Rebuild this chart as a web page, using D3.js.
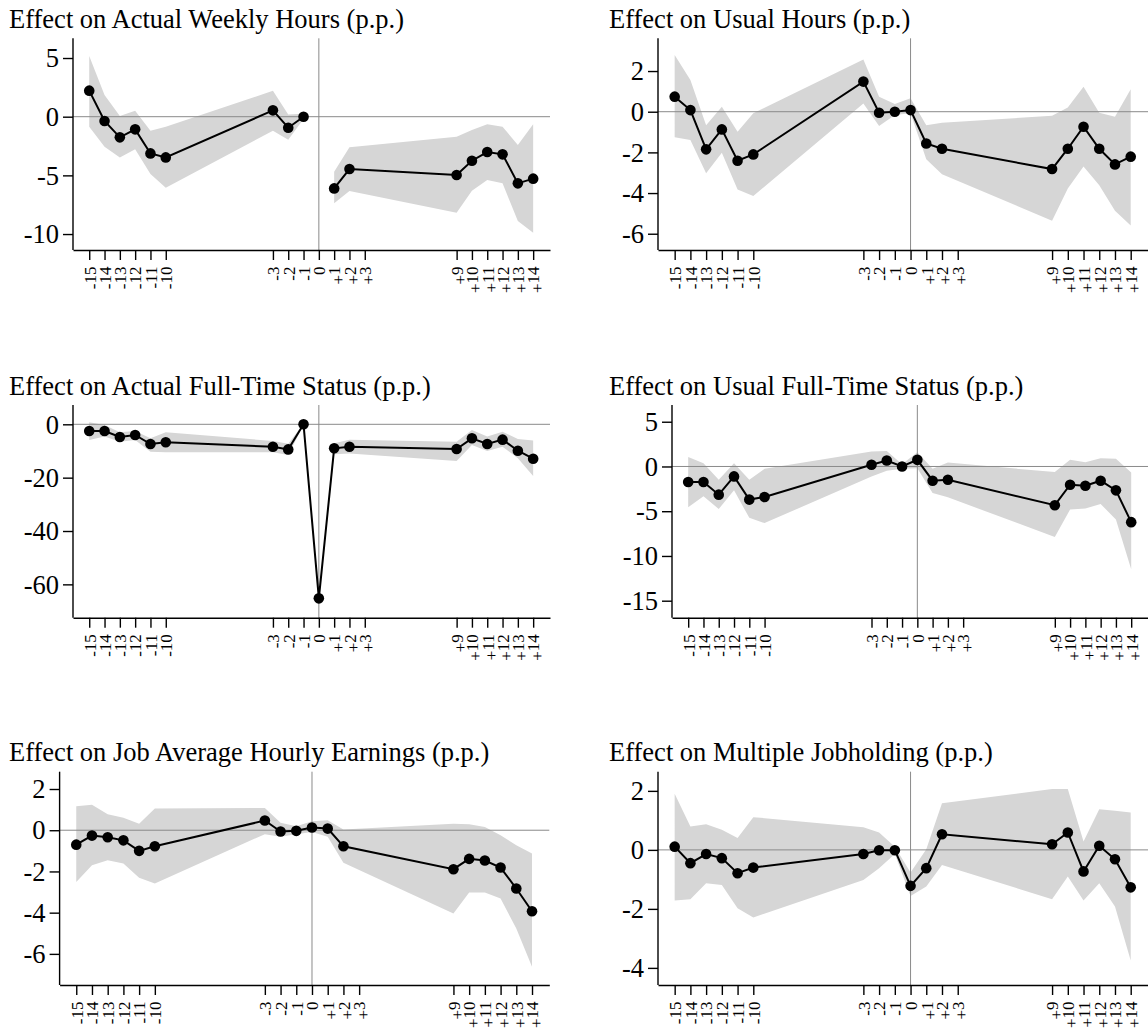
<!DOCTYPE html>
<html>
<head>
<meta charset="utf-8">
<script src="https://cdn.jsdelivr.net/npm/d3@7"></script>
<style>
  body { margin: 0; background: #fff; }
  svg { display: block; }
  svg text { font-family: "Liberation Serif", "Times New Roman", serif; }
</style>
</head>
<body>
<div id="chart"></div>
<script>
// event time of each estimate (no estimate at +3)
const eventTimes = [-15, -14, -13, -12, -11, -10, -3, -2, -1, 0, 1, 2, 9, 10, 11, 12, 13, 14];
const xTickValues = [-15, -14, -13, -12, -11, -10, -3, -2, -1, 0, 1, 2, 3, 9, 10, 11, 12, 13, 14];

const titles = [
  "Effect on Actual Weekly Hours (p.p.)",
  "Effect on Usual Hours (p.p.)",
  "Effect on Actual Full-Time Status (p.p.)",
  "Effect on Usual Full-Time Status (p.p.)",
  "Effect on Job Average Hourly Earnings (p.p.)",
  "Effect on Multiple Jobholding (p.p.)"
];

// actual weekly hours (no estimate at 0)
const actualHoursEst = [2.22, -0.37, -1.76, -1.08, -3.13, -3.47, 0.54, -0.94, 0.0, null, -6.11, -4.46, -4.97, -3.75, -3.01, -3.21, -5.68, -5.28];
const actualHoursHi  = [5.17, 1.85, 0.05, 0.51, -1.19, -0.85, 2.2, 0.18, 0.25, null, -4.69, -2.61, -1.7, -1.13, -0.65, -0.85, -2.41, -0.65];
const actualHoursLo  = [-0.85, -2.56, -3.47, -2.78, -4.89, -6.05, -1.2, -1.96, -0.2, null, -7.38, -6.33, -8.18, -6.31, -5.4, -5.68, -8.89, -9.89];

// usual hours
const usualHoursEst = [0.74, 0.08, -1.85, -0.87, -2.41, -2.1, 1.48, -0.05, 0.0, 0.08, -1.56, -1.82, -2.82, -1.82, -0.74, -1.82, -2.59, -2.21];
const usualHoursHi  = [2.79, 1.56, -0.66, 0.25, -0.98, -0.08, 2.57, 0.74, 0.38, 0.66, -0.66, -0.54, -0.2, 0.21, 1.23, -0.05, -0.25, 1.1];
const usualHoursLo  = [-1.26, -1.39, -3.03, -2.02, -3.82, -4.15, 0.41, -0.7, -0.16, -0.08, -2.34, -3.07, -5.36, -3.77, -2.7, -3.61, -4.87, -5.59];

// actual full-time status
const actualFtEst = [-2.5, -2.5, -4.75, -4.0, -7.4, -6.75, -8.4, -9.4, 0.0, -65.25, -9.0, -8.4, -9.25, -5.25, -7.4, -5.75, -9.9, -12.9];
const actualFtHi  = [0.75, -0.25, -3.0, -2.5, -5.25, -3.0, -6.25, -7.25, 0.25, -64.5, -7.1, -5.75, -6.5, -2.1, -4.6, -2.75, -5.5, -6.1];
const actualFtLo  = [-5.9, -4.6, -6.5, -5.9, -10.25, -10.5, -10.5, -11.5, -0.25, -66.0, -11.25, -10.9, -13.75, -7.75, -10.0, -8.4, -12.75, -19.4];

// usual full-time status
const usualFtEst = [-1.74, -1.74, -3.15, -1.11, -3.7, -3.41, 0.19, 0.67, 0.0, 0.74, -1.59, -1.48, -4.33, -2.04, -2.15, -1.59, -2.67, -6.22];
const usualFtHi  = [1.07, 0.37, -1.48, 0.37, -1.48, -0.26, 1.67, 1.74, 0.26, 1.6, -0.26, 0.44, -0.63, 0.74, 0.48, 0.93, 0.85, -0.67];
const usualFtLo  = [-4.56, -3.33, -4.74, -2.67, -5.74, -6.33, -1.11, -0.48, -0.26, -0.2, -2.96, -3.44, -7.89, -4.81, -4.7, -4.19, -5.93, -11.48];

// job average hourly earnings
const earningsEst = [-0.7, -0.26, -0.34, -0.49, -1.0, -0.78, 0.47, -0.06, -0.03, 0.13, 0.08, -0.78, -1.89, -1.39, -1.47, -1.81, -2.83, -3.93];
const earningsHi  = [1.16, 1.24, 0.78, 0.6, 0.32, 1.05, 1.08, 0.36, 0.19, 0.44, 0.49, 0.03, 0.32, 0.29, 0.16, -0.24, -0.73, -1.13];
const earningsLo  = [-2.51, -1.7, -1.46, -1.62, -2.31, -2.59, -0.19, -0.32, -0.19, -0.08, -0.32, -1.58, -4.04, -3.02, -3.02, -3.31, -4.77, -6.63];

// multiple jobholding
const multiJobEst = [0.11, -0.45, -0.14, -0.28, -0.79, -0.6, -0.14, -0.01, -0.01, -1.22, -0.62, 0.53, 0.19, 0.59, -0.73, 0.14, -0.32, -1.27];
const multiJobHi  = [1.9, 0.79, 0.87, 0.68, 0.4, 1.11, 0.77, 0.59, 0.11, -0.77, 0.02, 1.58, 2.06, 2.06, 0.28, 1.38, 1.33, 1.27];
const multiJobLo  = [-1.72, -1.67, -1.13, -1.19, -1.98, -2.29, -1.02, -0.62, -0.14, -1.56, -1.24, -0.51, -1.67, -0.9, -1.72, -1.13, -1.92, -3.75];

const yTicksList = [
  [5, 0, -5, -10],
  [2, 0, -2, -4, -6],
  [0, -20, -40, -60],
  [5, 0, -5, -10, -15],
  [2, 0, -2, -4, -6],
  [2, 0, -2, -4]
];

const series = [
  [actualHoursEst, actualHoursHi, actualHoursLo],
  [usualHoursEst, usualHoursHi, usualHoursLo],
  [actualFtEst, actualFtHi, actualFtLo],
  [usualFtEst, usualFtHi, usualFtLo],
  [earningsEst, earningsHi, earningsLo],
  [multiJobEst, multiJobHi, multiJobLo]
];

// plot regions (pixels) and value ranges of each panel
const layout = [
  { left: 73,  right: 550,  top: 38.3,  bottom: 250,   yDomain: [-11.36, 6.68], tx: 9,   ty: 28.3 },
  { left: 658, right: 1148, top: 38.3,  bottom: 250,   yDomain: [-6.80, 3.61],  tx: 609, ty: 28.3 },
  { left: 73,  right: 550,  top: 405,   bottom: 617.7, yDomain: [-72.5, 7.24],  tx: 9,   ty: 395 },
  { left: 672, right: 1148, top: 405,   bottom: 617.7, yDomain: [-16.9, 6.87],  tx: 609, ty: 395 },
  { left: 59.6, right: 549.3, top: 771.7, bottom: 985, yDomain: [-7.51, 2.84],  tx: 9,   ty: 761 },
  { left: 658, right: 1148, top: 771.7, bottom: 985,   yDomain: [-4.58, 2.65],  tx: 609, ty: 761 }
];

const xDomain = [-16.06, 15.1];
const serif = "'Liberation Serif', 'Times New Roman', serif";

const svg = d3.select("#chart").append("svg")
  .attr("width", 1148)
  .attr("height", 1034)
  .attr("font-family", serif);

layout.forEach((p, i) => {
  const [est, hi, lo] = series[i];
  const data = eventTimes.map((t, j) => ({ t: t, est: est[j], hi: hi[j], lo: lo[j] }));

  const x = d3.scaleLinear().domain(xDomain).range([p.left, p.right]);
  const y = d3.scaleLinear().domain(p.yDomain).range([p.bottom, p.top]);

  const g = svg.append("g");

  // title
  g.append("text")
    .attr("x", p.tx)
    .attr("y", p.ty)
    .attr("font-family", serif)
    .attr("font-size", 26.5)
    .attr("fill", "#000")
    .text(titles[i]);

  // confidence band
  const area = d3.area()
    .defined(d => d.hi != null)
    .x(d => x(d.t))
    .y0(d => y(d.lo))
    .y1(d => y(d.hi));
  g.append("path")
    .datum(data)
    .attr("d", area)
    .attr("fill", "#d6d6d6");

  // reference lines
  g.append("line")
    .attr("x1", p.left).attr("x2", p.right)
    .attr("y1", y(0)).attr("y2", y(0))
    .attr("stroke", "#8a8a8a").attr("stroke-width", 1);
  g.append("line")
    .attr("x1", x(0)).attr("x2", x(0))
    .attr("y1", p.top).attr("y2", p.bottom)
    .attr("stroke", "#8a8a8a").attr("stroke-width", 1);

  // axes
  const gy = g.append("g")
    .attr("transform", `translate(${p.left},0)`)
    .call(d3.axisLeft(y).tickValues(yTicksList[i]).tickSize(10).tickSizeOuter(0)
      .tickPadding(4).tickFormat(d => String(d)));
  gy.select(".domain").attr("d", `M0,${p.top}V${p.bottom}`);
  gy.attr("font-family", serif).attr("font-size", 26.5);
  gy.selectAll("text")
    .attr("font-family", serif)
    .attr("font-size", 26.5)
    .attr("dy", "0.33em")
    .attr("fill", "#000");

  const gx = g.append("g")
    .attr("transform", `translate(0,${p.bottom})`)
    .call(d3.axisBottom(x).tickValues(xTickValues).tickSize(10).tickSizeOuter(0).tickFormat(""));
  gx.selectAll(".tick text").remove();
  gx.attr("font-family", serif).attr("font-size", 17);
  gx.selectAll(".tick").each(function(d) {
    const t = d3.select(this).append("text")
      .attr("transform", "translate(0,16.5) rotate(-90)")
      .attr("text-anchor", "end")
      .attr("font-family", serif)
      .attr("font-size", 17)
      .attr("fill", "#000");
    const sign = d < 0 ? "-" : d > 0 ? "+" : "";
    if (sign) {
      t.append("tspan").attr("dy", 9).text(sign);
      t.append("tspan").attr("dy", -3.2).text(Math.abs(d));
    } else {
      t.append("tspan").attr("dy", 5.8).text(d);
    }
  });
  g.selectAll(".domain, .tick line").attr("stroke", "#000").attr("stroke-width", 1.4);

  // estimates
  const line = d3.line()
    .defined(d => d.est != null)
    .x(d => x(d.t))
    .y(d => y(d.est));
  g.append("path")
    .datum(data)
    .attr("d", line)
    .attr("fill", "none")
    .attr("stroke", "#000")
    .attr("stroke-width", 2);

  g.selectAll("circle.pt")
    .data(data.filter(d => d.est != null))
    .enter().append("circle")
    .attr("class", "pt")
    .attr("cx", d => x(d.t))
    .attr("cy", d => y(d.est))
    .attr("r", 5.3)
    .attr("fill", "#000");
});
</script>
</body>
</html>
